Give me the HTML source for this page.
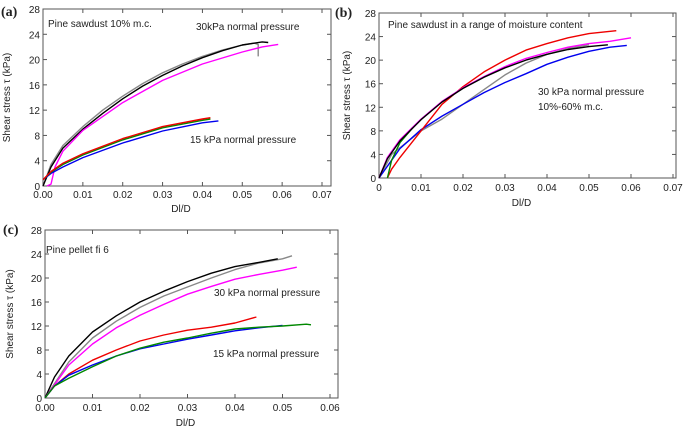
<!DOCTYPE html>
<html><head><meta charset="utf-8"><style>
body{margin:0;background:#fff;width:685px;height:434px;overflow:hidden}
svg text{font-family:"Liberation Sans",sans-serif;font-size:10px;fill:#222}
</style></head><body>
<svg id="fig" width="685" height="434" xmlns="http://www.w3.org/2000/svg"></svg>
<script>
// ---- Panel (a) data ----
const aBlackX=[0,0.002,0.005,0.01,0.015,0.02,0.025,0.03,0.035,0.04,0.045,0.05,0.055,0.0565];
const aBlackY=[0,3,6,9,11.5,13.8,15.8,17.5,19,20.3,21.4,22.3,22.8,22.7];
const aGrayX=[0,0.002,0.005,0.01,0.015,0.02,0.025,0.03,0.035,0.04,0.045,0.05,0.053,0.054,0.054];
const aGrayY=[0,3.4,6.4,9.4,12,14.2,16.2,17.9,19.3,20.5,21.5,22.3,22.6,22.4,20.5];
const aMagX=[0.001,0.002,0.003,0.005,0.01,0.02,0.03,0.04,0.05,0.055,0.059];
const aMagY=[0,0.3,3,5.5,8.8,13.2,16.7,19.3,21.2,22,22.4];
const aRedX=[0,0.002,0.005,0.01,0.02,0.03,0.04,0.042];
const aRedY=[1,2.3,3.6,5.1,7.5,9.4,10.6,10.8];
const aGreenX=[0,0.002,0.005,0.01,0.02,0.03,0.04,0.042];
const aGreenY=[1,2.2,3.4,4.9,7.3,9.2,10.4,10.6];
const aBlueX=[0,0.002,0.005,0.01,0.02,0.03,0.04,0.044];
const aBlueY=[1,2,3,4.5,6.8,8.7,10,10.3];
// ---- Panel (b) data ----
const bRedX=[0.002,0.003,0.005,0.01,0.015,0.02,0.025,0.03,0.035,0.04,0.045,0.05,0.0565];
const bRedY=[0,1.5,3.5,8,12.5,15.5,18,20,21.7,22.8,23.8,24.5,25];
const bMagX=[0,0.002,0.005,0.01,0.015,0.02,0.025,0.03,0.035,0.04,0.045,0.05,0.055,0.06];
const bMagY=[0,3.5,6.5,10,13,15.3,17.2,18.9,20.3,21.3,22.2,22.8,23.2,23.8];
const bBlackX=[0,0.002,0.005,0.01,0.015,0.02,0.025,0.03,0.035,0.04,0.045,0.05,0.0545];
const bBlackY=[0,3.3,6.3,9.9,12.9,15.2,17.1,18.7,20,21,21.8,22.3,22.6];
const bGreenX=[0.002,0.003,0.005,0.008];
const bGreenY=[0,3,6,8.5];
const bGrayX=[0,0.003,0.01,0.015,0.02,0.025,0.03,0.035,0.04,0.045,0.05];
const bGrayY=[0,4,8,10,12.5,15,17.5,19.5,21,22,22.6];
const bBlueX=[0,0.003,0.005,0.01,0.015,0.02,0.025,0.03,0.035,0.04,0.045,0.05,0.055,0.059];
const bBlueY=[0,3,5,8.2,10.5,12.5,14.5,16.2,17.7,19.3,20.5,21.5,22.2,22.5];
// ---- Panel (c) data ----
const cBlackX=[0,0.002,0.005,0.01,0.015,0.02,0.025,0.03,0.035,0.04,0.045,0.049];
const cBlackY=[0,3.5,7,11,13.7,16,17.8,19.4,20.8,21.9,22.6,23.2];
const cGrayX=[0,0.005,0.01,0.015,0.02,0.025,0.03,0.035,0.04,0.045,0.05,0.052];
const cGrayY=[0,6,10,12.8,15.1,17,18.5,20,21.4,22.5,23.2,23.7];
const cMagX=[0,0.005,0.01,0.015,0.02,0.025,0.03,0.035,0.04,0.045,0.05,0.053];
const cMagY=[0,5.5,9,11.7,13.8,15.6,17.3,18.6,19.8,20.6,21.3,21.8];
const cRedX=[0,0.002,0.005,0.01,0.015,0.02,0.025,0.03,0.035,0.04,0.0445];
const cRedY=[0,2,4,6.3,8,9.5,10.5,11.3,11.8,12.5,13.5];
const cBlueX=[0,0.002,0.005,0.01,0.015,0.02,0.025,0.03,0.035,0.04,0.045,0.05];
const cBlueY=[0,2,3.8,5.5,7,8.2,9,9.8,10.5,11.2,11.7,12.1];
const cGreenX=[0,0.002,0.005,0.01,0.015,0.02,0.025,0.03,0.035,0.04,0.045,0.05,0.055,0.056];
const cGreenY=[0,2,3.3,5.2,7,8.3,9.3,10,10.8,11.5,11.8,12,12.3,12.2];
// ---- ticks ----
const yTicks=[0,4,8,12,16,20,24,28];
const xTicksA=["0.00","0.01","0.02","0.03","0.04","0.05","0.06","0.07"];
const xTicksB=["0","0.01","0.02","0.03","0.04","0.05","0.06","0.07"];
const xTicksC=["0.00","0.01","0.02","0.03","0.04","0.05","0.06"];

const NS="http://www.w3.org/2000/svg";
const svg=document.getElementById('fig');
function mk(tag,attrs,parent){const e=document.createElementNS(NS,tag);for(const k in attrs)e.setAttribute(k,attrs[k]);(parent||svg).appendChild(e);return e;}
function txt(x,y,s,anchor,name,extra){const t=mk('text',Object.assign({x:x,y:y,'text-anchor':anchor||'start'},extra||{}));t.textContent=s;


return t;}

function panel(id,L,R,T,B,xMax,xTicks,x0px,x1px,series,yTitleX,xlabY,tickLabY){
  const g=mk('g',{});
  
  
  const sx=v=>x0px+(x1px-x0px)*v/xMax;
  const sy=v=>B-(B-T)*v/28;
  const box=mk('rect',{x:L,y:T,width:R-L,height:B-T,fill:'none',stroke:'#555','stroke-width':1},g);
  
  
  yTicks.forEach(v=>{
    const y=sy(v);
    mk('line',{x1:L,x2:L+4,y1:y,y2:y,stroke:'#555'},g);
    mk('line',{x1:R,x2:R-4,y1:y,y2:y,stroke:'#555'},g);
    const t=txt(L-3,y+4,String(v),'end','y-tick-label');g.appendChild(t);
  });
  xTicks.forEach((s,i)=>{
    const x=sx(xMax*i/(xTicks.length-1));
    mk('line',{x1:x,x2:x,y1:B,y2:B-4,stroke:'#555'},g);
    mk('line',{x1:x,x2:x,y1:T,y2:T+4,stroke:'#555'},g);
    const t=txt(x,tickLabY,s,'middle','x-tick-label');g.appendChild(t);
  });
  const yt=txt(yTitleX,(T+B)/2,'Shear stress  τ (kPa)','middle','y-axis-title',{transform:`rotate(-90 ${yTitleX} ${(T+B)/2})`});g.appendChild(yt);
  const xt=txt((L+R)/2-6,xlabY,'Dl/D','middle','x-axis-title');g.appendChild(xt);
  series.forEach(s=>{
    const d=s.x.map((v,i)=>(i?'L':'M')+sx(v).toFixed(1)+','+sy(s.y[i]).toFixed(1)).join(' ');
    const p=mk('path',{d:d,fill:'none',stroke:s.c,'stroke-width':1.4,'stroke-linejoin':'round'},g);
    
    
  });
  return g;
}
panel('a',43,331,9,186,0.07,xTicksA,43,322,[
  {x:aGrayX,y:aGrayY,c:'#888',n:'series-a-gray'},
  {x:aBlackX,y:aBlackY,c:'#000',n:'series-a-black'},
  {x:aMagX,y:aMagY,c:'#f0f',n:'series-a-magenta'},
  {x:aBlueX,y:aBlueY,c:'#0000ee',n:'series-a-blue'},
  {x:aGreenX,y:aGreenY,c:'#080',n:'series-a-green'},
  {x:aRedX,y:aRedY,c:'#e00',n:'series-a-red'}],10,212,198);
panel('b',379,676,13,178,0.07,xTicksB,379,673,[
  {x:bGrayX,y:bGrayY,c:'#888',n:'series-b-gray'},
  {x:bBlueX,y:bBlueY,c:'#0000ee',n:'series-b-blue'},
  {x:bRedX,y:bRedY,c:'#e00',n:'series-b-red'},
  {x:bMagX,y:bMagY,c:'#f0f',n:'series-b-magenta'},
  {x:bGreenX,y:bGreenY,c:'#080',n:'series-b-green'},
  {x:bBlackX,y:bBlackY,c:'#000',n:'series-b-black'}],350,206,191);
panel('c',45,338,230,398,0.06,xTicksC,45,330,[
  {x:cGrayX,y:cGrayY,c:'#888',n:'series-c-gray'},
  {x:cBlackX,y:cBlackY,c:'#000',n:'series-c-black'},
  {x:cMagX,y:cMagY,c:'#f0f',n:'series-c-magenta'},
  {x:cRedX,y:cRedY,c:'#e00',n:'series-c-red'},
  {x:cBlueX,y:cBlueY,c:'#0000ee',n:'series-c-blue'},
  {x:cGreenX,y:cGreenY,c:'#080',n:'series-c-green'}],13,426,411);

txt(48,27,'Pine sawdust 10% m.c.','start','annotation-a-title');
txt(196,30,'30kPa normal pressure','start','annotation-a-30kpa');
txt(190,143,'15 kPa normal pressure','start','annotation-a-15kpa');
txt(388,28,'Pine sawdust in a range of moisture content','start','annotation-b-title');
txt(538,95,'30 kPa normal pressure','start','annotation-b-30kpa');
txt(538,110,'10%-60% m.c.','start','annotation-b-mc');
txt(46,253,'Pine pellet fi 6','start','annotation-c-title');
txt(214,296,'30 kPa normal pressure','start','annotation-c-30kpa');
txt(213,357,'15 kPa normal pressure','start','annotation-c-15kpa');
const st={style:'font-family:"Liberation Serif",serif;font-size:14px;font-weight:bold'};
txt(1,16,'(a)','start','panel-label-a',st);
txt(335,17,'(b)','start','panel-label-b',st);
txt(3,234,'(c)','start','panel-label-c',st);
</script>
</body></html>
